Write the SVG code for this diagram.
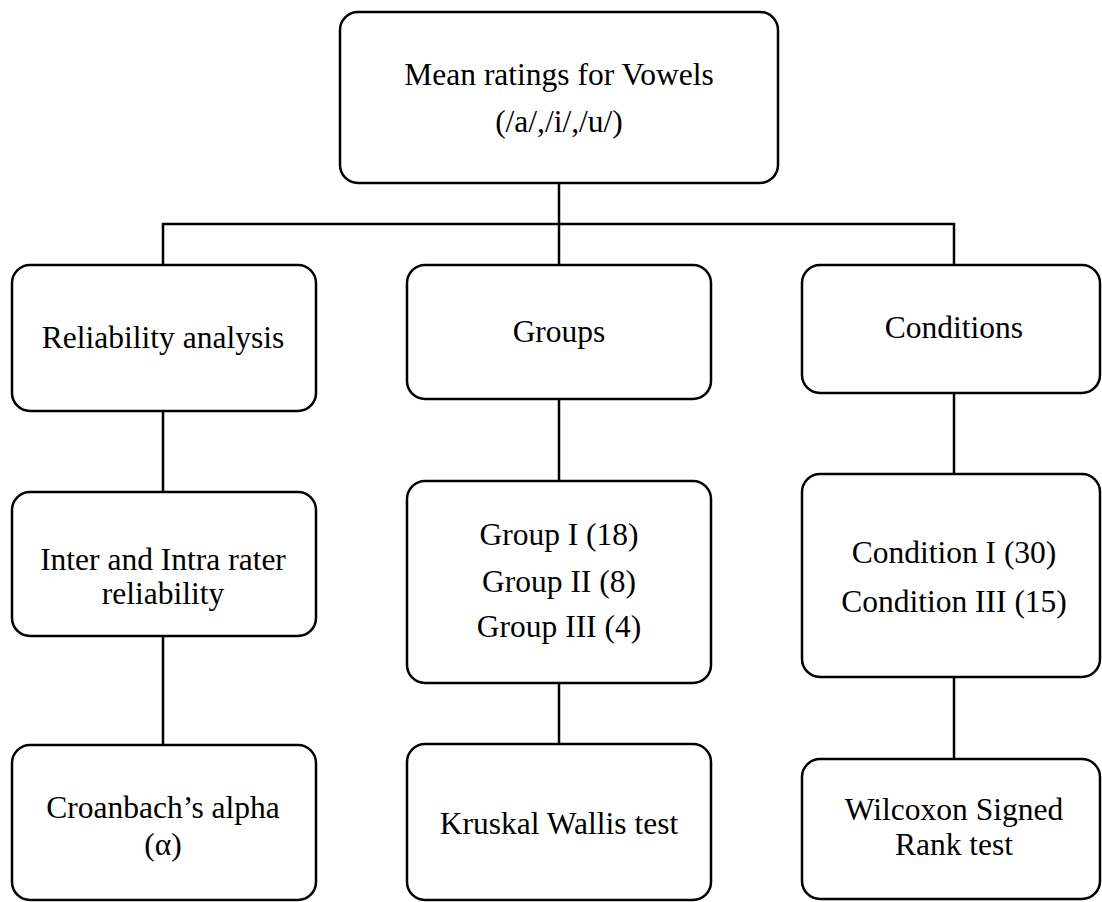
<svg xmlns="http://www.w3.org/2000/svg" width="1102" height="902" viewBox="0 0 1102 902">
  <style>
    .box { fill: #ffffff; stroke: #000000; stroke-width: 2.5; }
    .link { fill: none; stroke: #000000; stroke-width: 2.5; }
    .label { font-family: "Liberation Serif", "Times New Roman", serif; font-size: 31.5px; fill: #000000; text-anchor: middle; }
  </style>
  <rect width="1102" height="902" fill="#ffffff"/>

  <!-- connectors -->
  <g id="connectors">
    <path class="link" d="M559 183 V224"/>
    <path class="link" d="M163 265 V224 H954 V265"/>
    <path class="link" d="M559 224 V265"/>
    <path class="link" d="M163 411 V492"/>
    <path class="link" d="M559 399 V481"/>
    <path class="link" d="M954 393 V474"/>
    <path class="link" d="M163 636 V745"/>
    <path class="link" d="M559 683 V744"/>
    <path class="link" d="M954 677 V759"/>
  </g>

  <!-- root -->
  <g id="mean-ratings">
    <rect class="box" x="340" y="12" width="438" height="171" rx="18"/>
    <text class="label" x="559" y="85">Mean ratings for Vowels</text>
    <text class="label" x="559" y="132">(/a/,/i/,/u/)</text>
  </g>

  <!-- second row -->
  <g id="reliability-analysis">
    <rect class="box" x="12" y="265" width="304" height="146" rx="18"/>
    <text class="label" x="163" y="348">Reliability analysis</text>
  </g>
  <g id="groups">
    <rect class="box" x="407" y="265" width="304" height="134" rx="18"/>
    <text class="label" x="559" y="342">Groups</text>
  </g>
  <g id="conditions">
    <rect class="box" x="802" y="265" width="298" height="128" rx="18"/>
    <text class="label" x="954" y="338">Conditions</text>
  </g>

  <!-- third row -->
  <g id="rater-reliability">
    <rect class="box" x="12" y="492" width="304" height="144" rx="18"/>
    <text class="label" x="163" y="570">Inter and Intra rater</text>
    <text class="label" x="163" y="604">reliability</text>
  </g>
  <g id="group-sizes">
    <rect class="box" x="407" y="481" width="304" height="202" rx="18"/>
    <text class="label" x="559" y="545">Group I (18)</text>
    <text class="label" x="559" y="592">Group II (8)</text>
    <text class="label" x="559" y="637">Group III (4)</text>
  </g>
  <g id="condition-sizes">
    <rect class="box" x="802" y="474" width="298" height="203" rx="18"/>
    <text class="label" x="954" y="563">Condition I (30)</text>
    <text class="label" x="954" y="612">Condition III (15)</text>
  </g>

  <!-- bottom row -->
  <g id="cronbach-alpha">
    <rect class="box" x="12" y="745" width="304" height="155" rx="18"/>
    <text class="label" x="163" y="818">Croanbach’s alpha</text>
    <text class="label" x="163" y="855">(α)</text>
  </g>
  <g id="kruskal-wallis">
    <rect class="box" x="407" y="744" width="304" height="156" rx="18"/>
    <text class="label" x="559" y="834">Kruskal Wallis test</text>
  </g>
  <g id="wilcoxon">
    <rect class="box" x="802" y="759" width="298" height="140" rx="18"/>
    <text class="label" x="954" y="820">Wilcoxon Signed</text>
    <text class="label" x="954" y="855">Rank test</text>
  </g>
</svg>
